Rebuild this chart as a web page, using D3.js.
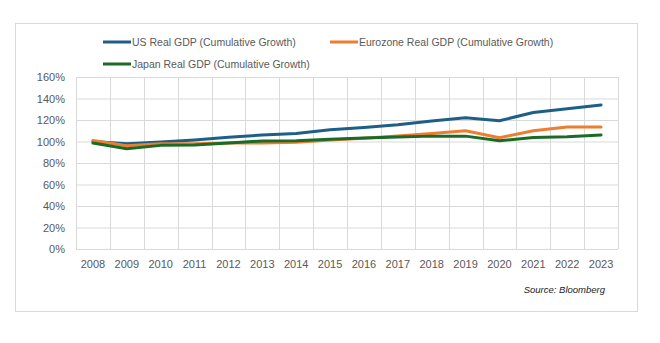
<!DOCTYPE html>
<html>
<head>
<meta charset="utf-8">
<script src="https://cdn.jsdelivr.net/npm/d3@7"></script>
<style>
  body { margin: 0; background: #fff; }
  #chart { width: 660px; height: 343px; }
  text { font-family: "Liberation Sans", Arial, sans-serif; fill: #595959; }
</style>
</head>
<body>
<div id="chart"></div>
<script>

  //-- DATA
  var years = ['2008', '2009', '2010', '2011', '2012', '2013', '2014', '2015',
    '2016', '2017', '2018', '2019', '2020', '2021', '2022', '2023'];

  var usGdp = [100, 98, 99.5, 101.5, 104, 106, 107.5, 111, 113, 115.5, 119, 122, 119.3, 127, 130.5, 134];
  var euroGdp = [101, 96, 98, 98, 98.5, 98.6, 99.2, 101.4, 103, 105.1, 107.5, 110, 103.5, 110, 113.5, 113.5];
  var japanGdp = [98.6, 93.3, 96.4, 96.7, 98.5, 100.5, 100.7, 102, 103.3, 104.2, 105, 105, 100.7, 103.8, 104.5, 106];

  var yTicks = [0, 20, 40, 60, 80, 100, 120, 140, 160];

  var seriesNames = ['US Real GDP (Cumulative Growth)', 'Eurozone Real GDP (Cumulative Growth)',
    'Japan Real GDP (Cumulative Growth)'];
  var seriesColors = ['#1d5f86', '#ed7d31', '#1b6b26'];

  var series = [usGdp, euroGdp, japanGdp];

  //-- SVG
  var svg = d3.select('#chart').append('svg')
    .attr('width', 660)
    .attr('height', 343);

  //-- OUTER FRAME
  svg.append('rect')
    .attr('x', 15.5)
    .attr('y', 23.5)
    .attr('width', 622)
    .attr('height', 288)
    .attr('fill', '#fff')
    .attr('stroke', '#d9d9d9');

  var m = { left: 76, right: 618, top: 77, bottom: 249 };

  //-- SCALES
  var x = d3.scaleBand()
    .domain(years)
    .range([m.left, m.right]);

  var y = d3.scaleLinear()
    .domain([0, 160])
    .range([m.bottom, m.top]);

  //-- GRID Y
  svg.append('g')
    .attr('transform', 'translate(' + m.left + ',0)')
    .call(d3.axisLeft(y).tickValues(yTicks).tickSize(-(m.right - m.left)).tickFormat(''))
    .call(function(g) {
      g.select('.domain').remove();
      g.selectAll('line').attr('stroke', '#d9d9d9');
    });

  //-- GRID X (band edges)
  var edges = years.map(function(d) { return x(d); }).concat([m.right]);
  svg.append('g')
    .selectAll('line')
    .data(edges)
    .enter().append('line')
    .attr('x1', function(d) { return Math.round(d) + 0.5; })
    .attr('x2', function(d) { return Math.round(d) + 0.5; })
    .attr('y1', m.top)
    .attr('y2', m.bottom)
    .attr('stroke', '#d9d9d9');

  //-- AXIS LABELS
  svg.append('g')
    .attr('transform', 'translate(' + (m.left - 11) + ',0)')
    .call(d3.axisLeft(y).tickValues(yTicks).tickSize(0).tickFormat(function(d) { return d + '%'; }))
    .call(function(g) {
      g.select('.domain').remove();
      g.selectAll('text').attr('x', 0).style('font-size', '11px').attr('fill', '#595959');
    });

  svg.append('g')
    .attr('transform', 'translate(0,' + m.bottom + ')')
    .call(d3.axisBottom(x).tickSize(0))
    .call(function(g) {
      g.select('.domain').remove();
      g.selectAll('text').attr('dy', '0').attr('y', 19).style('font-size', '11px').attr('fill', '#595959');
    });

  //-- LINES
  var lineFunc = d3.line()
    .x(function(d, i) { return x(years[i]) + x.bandwidth() / 2; })
    .y(function(d) { return y(d); });

  // draw in order US, Eurozone, Japan so Japan ends on top
  series.forEach(function(s, i) {
    svg.append('path')
      .datum(s)
      .attr('d', lineFunc)
      .attr('fill', 'none')
      .attr('stroke', seriesColors[i])
      .attr('stroke-width', 3)
      .attr('stroke-linejoin', 'round')
      .attr('stroke-linecap', 'round');
  });

  //-- LEGEND
  var legendPos = [[103, 42], [330, 42], [103, 64]];
  var legend = svg.append('g');
  seriesNames.forEach(function(name, i) {
    var p = legendPos[i];
    legend.append('line')
      .attr('x1', p[0]).attr('x2', p[0] + 28)
      .attr('y1', p[1]).attr('y2', p[1])
      .attr('stroke', seriesColors[i])
      .attr('stroke-width', 3);
    legend.append('text')
      .attr('x', p[0] + 29)
      .attr('y', p[1] + 4)
      .style('font-size', '10.5px')
      .text(name);
  });

  //-- SOURCE
  svg.append('text')
    .attr('x', 605)
    .attr('y', 293)
    .attr('text-anchor', 'end')
    .style('font-size', '9.5px')
    .style('font-style', 'italic')
    .style('fill', '#222')
    .text('Source: Bloomberg');

</script>
</body>
</html>
